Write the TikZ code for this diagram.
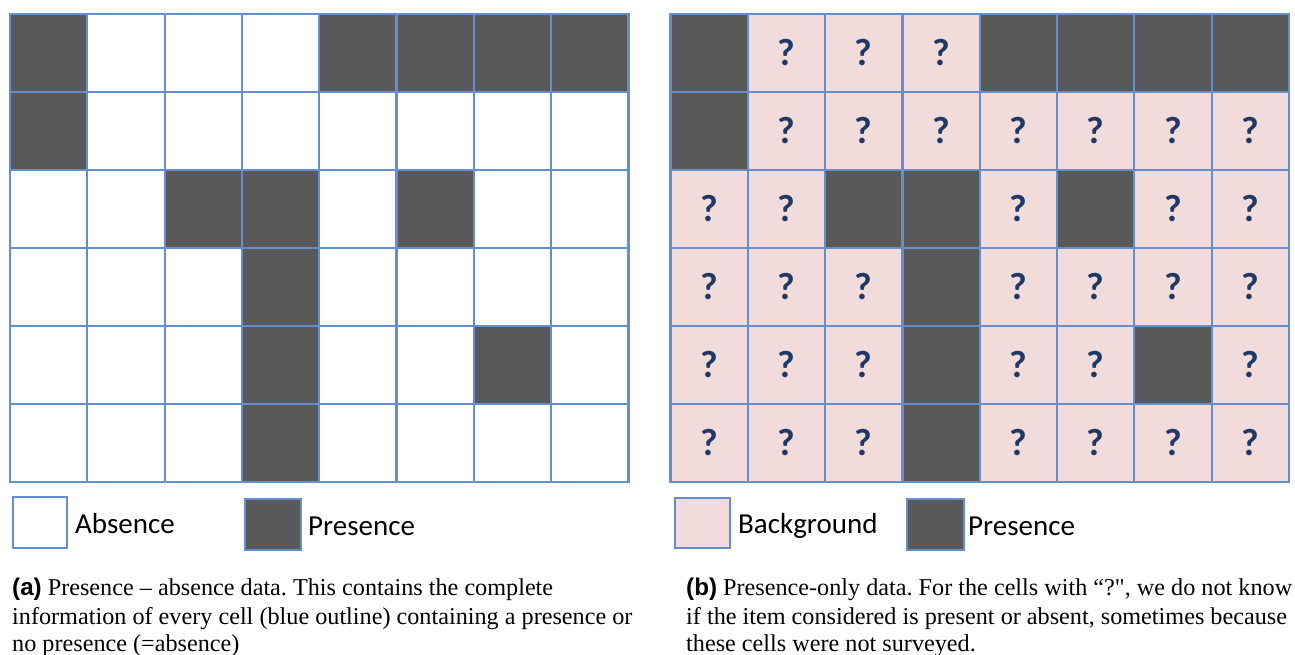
\documentclass[tikz,border=0pt]{standalone}
\usepackage{fontspec}
\setmainfont{Liberation Serif}
\newfontfamily\plainserif{Liberation Serif}
\newfontfamily\legfont{Carlito}
\newfontfamily\capsans{Liberation Sans}
\definecolor{gridblue}{RGB}{100,142,206}
\definecolor{presgray}{RGB}{89,89,89}
\definecolor{bgpink}{RGB}{242,220,219}
\definecolor{qblue}{RGB}{31,56,100}
\frenchspacing
\tikzset{
  cellbox/.style={draw=gridblue, line width=2.2pt},
  qmark/.style={text=qblue, font=\legfont\bfseries\fontsize{38}{38}\selectfont, inner sep=0pt},
  legtext/.style={anchor=base west, inner sep=0pt, font=\legfont\fontsize{29}{29}\selectfont},
  captext/.style={anchor=base west, inner sep=0pt, font=\fontsize{24.2}{28}\selectfont}
}
\begin{document}
\begin{tikzpicture}[x=1pt,y=-1pt]
\useasboundingbox (0,0) rectangle (1295,654);
% grids
\foreach \r/\pat in {1/{1,0,0,0,1,1,1,1},2/{1,0,0,0,0,0,0,0},3/{0,0,1,1,0,1,0,0},4/{0,0,0,1,0,0,0,0},5/{0,0,0,1,0,0,1,0},6/{0,0,0,1,0,0,0,0}}{
  \foreach \v [count=\c] in \pat {
    \ifnum\v=1
      \filldraw[cellbox, fill=presgray] ({10+(\c-1)*77.3},{14+(\r-1)*78}) rectangle ++(77.3,78);
      \filldraw[cellbox, fill=presgray] ({670.5+(\c-1)*77.3},{14+(\r-1)*78}) rectangle ++(77.3,78);
    \else
      \filldraw[cellbox, fill=white] ({10+(\c-1)*77.3},{14+(\r-1)*78}) rectangle ++(77.3,78);
      \filldraw[cellbox, fill=bgpink] ({670.5+(\c-1)*77.3},{14+(\r-1)*78}) rectangle ++(77.3,78);
      \node[qmark] (q-\r-\c) at ({670.5+(\c-0.5)*77.3},{14+(\r-0.5)*78}) {?};
    \fi
  }
}
% legends (a)
\filldraw[cellbox, line width=1.8pt, fill=white] (13,497) rectangle (67,548);
\node[legtext] (absA) at (75,533) {Absence};
\filldraw[cellbox, line width=1.8pt, fill=presgray] (245,499) rectangle (301,550);
\node[legtext] (presA) at (308,535) {Presence};
% legends (b)
\filldraw[cellbox, line width=1.8pt, fill=bgpink] (675,498) rectangle (730,548);
\node[legtext] (bgB) at (738,533) {Background};
\filldraw[cellbox, line width=1.8pt, fill=presgray] (907,499) rectangle (964,550);
\node[legtext] (presB) at (968,535) {Presence};
% captions
\node[captext] (ca1) at (12,595) {{\capsans\bfseries (a)} Presence – absence data. This contains the complete};
\node[captext] (ca2) at (12,624) {information of every cell (blue outline) containing a presence or};
\node[captext] (ca3) at (12,651) {no presence (=absence)};
\node[captext] (cb1) at (686,595) {{\capsans\bfseries (b)} Presence-only data. For the cells with “?{\plainserif "}, we do not know};
\node[captext] (cb2) at (686,624) {if the item considered is present or absent, sometimes because};
\node[captext] (cb3) at (686,651) {these cells were not surveyed.};
\end{tikzpicture}
\end{document}
